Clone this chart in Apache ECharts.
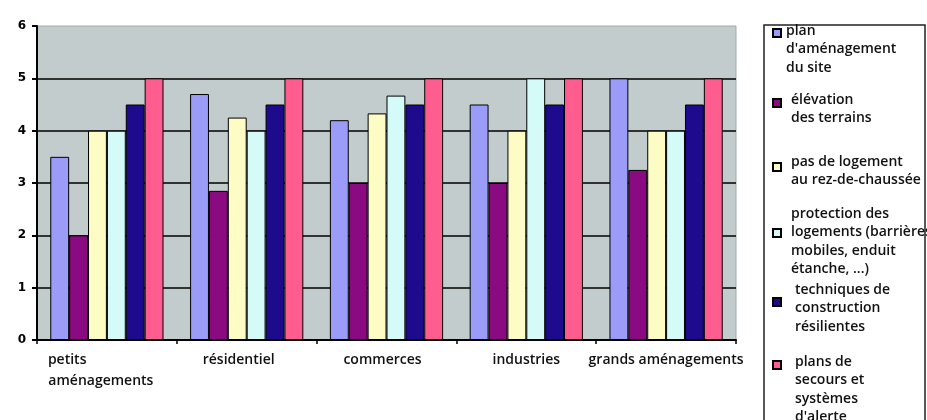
<!DOCTYPE html>
<html>
<head>
<meta charset="utf-8">
<script src="https://cdn.jsdelivr.net/npm/echarts@6/dist/echarts.min.js"></script>
<style>
html, body { margin: 0; padding: 0; background: #fff; }
#main { width: 927px; height: 420px; }
</style>
</head>
<body>
<div id="main"></div>
<script>
// categories and values
var categories = ['petits\naménagements', 'résidentiel', 'commerces', 'industries', 'grands aménagements'];
var seriesNames = [
    "plan d'aménagement du site",
    'élévation des terrains',
    'pas de logement au rez-de-chaussée',
    'protection des logements (barrières mobiles, enduit étanche, ...)',
    'techniques de construction résilientes',
    "plans de secours et systèmes d'alerte"
];
var legendLabels = [
    "plan\nd'aménagement\ndu site",
    'élévation\ndes terrains',
    'pas de logement\nau rez-de-chaussée',
    'protection des\nlogements (barrières\nmobiles, enduit\nétanche, ...)',
    'techniques de\nconstruction\nrésilientes',
    "plans de\nsecours et\nsystèmes\nd'alerte"
];
var planSite    = [3.5, 4.7, 4.2, 4.5, 5];
var elevation   = [2, 2.85, 3, 3, 3.25];
var pasLogement = [4, 4.25, 4.33, 4, 4];
var protection  = [4, 4, 4.67, 5, 4];
var techniques  = [4.5, 4.5, 4.5, 4.5, 4.5];
var secours     = [5, 5, 5, 5, 5];
var yMin = 0, yMax = 6, yStep = 1;

var values = [planSite, elevation, pasLogement, protection, techniques, secours];
var colors = ['#9a9cf7', '#8a0a82', '#fcfcc4', '#d4fbf8', '#1e0a8c', '#ff5c90'];

// small left shifts of the category labels, px
var labelShift = [6, 8, 4, 0, 0];

// legend item placement: marker centre y, first text line y, extra left gap
var legendPos = [
    [33, 31, 0],
    [103, 100, 5],
    [167, 162, 5],
    [233, 214, 5],
    [302, 290, 9],
    [365, 362, 9]
];
var LH = 18.5;
var font = '"Open Sans", "DejaVu Sans", sans-serif';

var myChart = echarts.init(document.getElementById('main'));

var legends = legendPos.map(function (p, i) {
    var n = legendLabels[i].split('\n').length;
    var d = p[1] + (n - 1) * LH / 2 - p[0];
    var sp = Math.max(1, 2 * d);
    var h = n * LH + sp;
    var txt = '{s| }\n' + legendLabels[i].split('\n').map(function (t) {
        return '{t|' + t + '}';
    }).join('\n');
    return {
        data: [seriesNames[i]],
        orient: 'vertical',
        left: 772,
        top: p[0] - h / 2,
        padding: 0,
        itemWidth: 8,
        itemHeight: 8,
        icon: 'rect',
        selectedMode: false,
        formatter: function () { return txt; },
        textStyle: {
            fontFamily: font,
            fontSize: 14,
            fontWeight: 600,
            color: '#111',
            rich: {
                s: { fontSize: 1, lineHeight: sp, height: sp },
                t: {
                    fontFamily: font,
                    fontSize: 14,
                    fontWeight: 600,
                    color: '#111',
                    lineHeight: LH,
                    padding: [0, 0, 0, p[2]]
                }
            }
        }
    };
});

var categoryData = categories.map(function (c, i) {
    return { value: c, textStyle: { padding: [0, 2 * labelShift[i], 0, 0] } };
});

var series = values.map(function (v, i) {
    return {
        name: seriesNames[i],
        type: 'bar',
        data: v,
        barGap: 0,
        barCategoryGap: '19%',
        animation: false,
        itemStyle: {
            color: colors[i],
            borderColor: '#000',
            borderWidth: 1
        }
    };
});

var option = {
    backgroundColor: '#fff',
    graphic: [{
        type: 'rect',
        z: 0,
        shape: { x: 764, y: 25, width: 161, height: 400 },
        style: { fill: '#fff', stroke: '#222', lineWidth: 1.5 }
    }],
    grid: {
        left: 37,
        right: 191,
        top: 26,
        bottom: 80,
        show: true,
        backgroundColor: '#c2cccc',
        borderColor: '#a3abab',
        borderWidth: 1
    },
    legend: legends,
    xAxis: {
        type: 'category',
        data: categoryData,
        axisLine: { lineStyle: { color: '#000', width: 2 } },
        axisTick: { show: true, length: 4, lineStyle: { color: '#000', width: 1.5 } },
        axisLabel: {
            interval: 0,
            margin: 10,
            color: '#111',
            fontFamily: font,
            fontSize: 14,
            fontWeight: 600,
            lineHeight: 21,
            formatter: function (val) {
                var parts = val.split('\n');
                if (parts.length < 2) return val;
                return '{l|' + parts[0] + '}\n' + parts[1];
            },
            rich: {
                l: {
                    width: 106,
                    align: 'left',
                    fontFamily: font,
                    fontSize: 14,
                    fontWeight: 600,
                    color: '#111',
                    lineHeight: 21
                }
            }
        }
    },
    yAxis: {
        type: 'value',
        min: yMin,
        max: yMax,
        interval: yStep,
        axisLine: { show: true, lineStyle: { color: '#000', width: 2 } },
        axisTick: { show: true, length: 5, lineStyle: { color: '#000', width: 2 } },
        axisLabel: {
            margin: 11,
            color: '#000',
            fontFamily: '"DejaVu Sans", sans-serif',
            fontSize: 12,
            fontWeight: 'bold'
        },
        splitLine: {
            show: true,
            showMaxLine: false,
            lineStyle: { color: '#000', width: 1.5 }
        }
    },
    series: series
};

myChart.setOption(option);
</script>
</body>
</html>
